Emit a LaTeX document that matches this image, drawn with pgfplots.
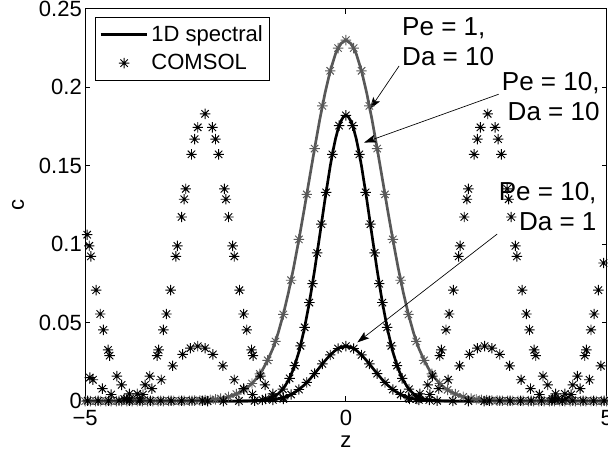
\documentclass[border=0pt]{standalone}
\usepackage{fontspec}
\setmainfont{Liberation Sans}
\usepackage{pgfplots}
\pgfplotsset{compat=1.18}
\usetikzlibrary{arrows.meta}
\definecolor{mgray}{RGB}{88,88,88}
\pgfdeclareplotmark{mstar}{%
 \pgfpathmoveto{\pgfqpoint{-\pgfplotmarksize}{0pt}}\pgfpathlineto{\pgfqpoint{\pgfplotmarksize}{0pt}}%
 \pgfpathmoveto{\pgfqpoint{0pt}{-\pgfplotmarksize}}\pgfpathlineto{\pgfqpoint{0pt}{\pgfplotmarksize}}%
 \pgfpathmoveto{\pgfqpoint{-0.7071\pgfplotmarksize}{-0.7071\pgfplotmarksize}}\pgfpathlineto{\pgfqpoint{0.7071\pgfplotmarksize}{0.7071\pgfplotmarksize}}%
 \pgfpathmoveto{\pgfqpoint{-0.7071\pgfplotmarksize}{0.7071\pgfplotmarksize}}\pgfpathlineto{\pgfqpoint{0.7071\pgfplotmarksize}{-0.7071\pgfplotmarksize}}%
 \pgfusepathqstroke}
\pgfplotsset{
 mylineleg/.style={legend image code/.code={\draw[##1] (0pt,0pt) -- (35pt,0pt);}},
 mymarkleg/.style={legend image code/.code={\draw[##1] plot coordinates {(17.5pt,0pt)};}},
 bstar/.style={only marks, mark=mstar, mark size=3.9pt, mark options={line width=0.7pt, draw=black}},
 gstar/.style={only marks, mark=mstar, mark size=3.9pt, mark options={line width=0.7pt, draw=mgray}},
}
\newcommand{\tickfont}{\fontsize{16.5}{19}\selectfont}
\newcommand{\annfont}{\fontsize{19.5}{22.5}\selectfont}
\begin{document}
\begin{tikzpicture}
\begin{axis}[
 name=ax,
 scale only axis, width=390.75pt, height=294pt,
 xmin=-5, xmax=5, ymin=0, ymax=0.25,
 xtick={-5,0,5}, xticklabels={−5,0,5},
 ytick={0,0.05,0.1,0.15,0.2,0.25}, yticklabels={0,0.05,0.1,0.15,0.2,0.25},
 tick align=inside, major tick length=3.75pt,
 tick style={black, line width=0.6pt},
 axis line style={black, line width=0.6pt},
 ticklabel style={font=\tickfont},
 xticklabel style={inner ysep=0pt, yshift=-6.75pt},
 yticklabel style={inner xsep=0pt, xshift=-2.25pt},
 xlabel={z}, ylabel={c},
 every axis x label/.style={at={([yshift=-30.75pt]axis description cs:0.5,0)}, anchor=center, font=\tickfont},
 every axis y label/.style={at={([xshift=-50.25pt]axis description cs:0,0.5)}, anchor=center, rotate=90, font=\tickfont},
 clip=false,
 legend style={at={(rel axis cs:0.019,0.98)}, anchor=north west, draw=black, line width=0.6pt,
   font=\tickfont, inner xsep=3pt, inner ysep=2pt, row sep=0pt,
   nodes={inner xsep=2pt, inner ysep=4.2pt}},
 legend cell align=left,
]
\addlegendimage{mylineleg, black, line width=2pt}
\addlegendentry{1D spectral}
\addlegendimage{mymarkleg, only marks, mark=mstar, mark size=3.9pt, mark options={line width=0.7pt, draw=black}}
\addlegendentry{COMSOL}

% 1D spectral: Pe = 1, Da = 10 (gray)
\addplot[forget plot, mgray, line width=2pt] coordinates {
(-5,0) (-4,0) (-3.4,0.0001) (-3.0,0.0002) (-2.8,0.0004) (-2.6,0.0008) (-2.4,0.0016) (-2.2,0.0032) (-2.0,0.0061) (-1.9,0.0083) (-1.8,0.0112) (-1.7,0.0150) (-1.6,0.0198) (-1.5,0.0260) (-1.4,0.0335) (-1.3,0.0432) (-1.2,0.0552) (-1.1,0.0693) (-1.0,0.0853) (-0.9,0.1030) (-0.8,0.1219) (-0.7,0.1415) (-0.6,0.1609) (-0.5,0.1795) (-0.4,0.1962) (-0.3,0.2104) (-0.2,0.2211) (-0.1,0.2277) (0,0.2300) (0.1,0.2277) (0.2,0.2211) (0.3,0.2104) (0.4,0.1962) (0.5,0.1795) (0.6,0.1609) (0.7,0.1415) (0.8,0.1219) (0.9,0.1030) (1.0,0.0853) (1.1,0.0693) (1.2,0.0552) (1.3,0.0432) (1.4,0.0335) (1.5,0.0260) (1.6,0.0198) (1.7,0.0150) (1.8,0.0112) (1.9,0.0083) (2.0,0.0061) (2.2,0.0032) (2.4,0.0016) (2.6,0.0008) (2.8,0.0004) (3.0,0.0002) (3.4,0.0001) (4,0) (5,0)
};
% 1D spectral: Pe = 10, Da = 10
\addplot[forget plot, black, line width=2pt] coordinates {
(-2.7,0) (-2.0,0) (-1.8,0.0002) (-1.6,0.0007) (-1.5,0.0014) (-1.4,0.0026) (-1.3,0.0046) (-1.2,0.0080) (-1.1,0.0132) (-1.0,0.0208) (-0.9,0.0314) (-0.8,0.0454) (-0.7,0.0628) (-0.6,0.0833) (-0.5,0.1058) (-0.4,0.1286) (-0.3,0.1497) (-0.25,0.1589) (-0.2,0.1669) (-0.15,0.1733) (-0.1,0.1781) (-0.05,0.1810) (0,0.1820) (0.05,0.1810) (0.1,0.1781) (0.15,0.1733) (0.2,0.1669) (0.25,0.1589) (0.3,0.1497) (0.4,0.1286) (0.5,0.1058) (0.6,0.0833) (0.7,0.0628) (0.8,0.0454) (0.9,0.0314) (1.0,0.0208) (1.1,0.0132) (1.2,0.0080) (1.3,0.0046) (1.4,0.0026) (1.5,0.0014) (1.6,0.0007) (1.8,0.0002) (2.0,0) (2.7,0)
};
% 1D spectral: Pe = 10, Da = 1
\addplot[forget plot, black, line width=2pt] coordinates {
(-2.7,0) (-2.0,0) (-1.8,0.0001) (-1.6,0.0003) (-1.4,0.0008) (-1.3,0.0014) (-1.2,0.0022) (-1.1,0.0034) (-1.0,0.0051) (-0.9,0.0074) (-0.8,0.0102) (-0.7,0.0136) (-0.6,0.0175) (-0.5,0.0216) (-0.4,0.0257) (-0.3,0.0294) (-0.2,0.0324) (-0.1,0.0343) (0,0.0350) (0.1,0.0343) (0.2,0.0324) (0.3,0.0294) (0.4,0.0257) (0.5,0.0216) (0.6,0.0175) (0.7,0.0136) (0.8,0.0102) (0.9,0.0074) (1.0,0.0051) (1.1,0.0034) (1.2,0.0022) (1.3,0.0014) (1.4,0.0008) (1.6,0.0003) (1.8,0.0001) (2.0,0) (2.7,0)
};

% COMSOL, Pe = 1, Da = 10 (gray stars)
\addplot[forget plot, gstar] coordinates {
(-2.4,0.0016) (-2.25,0.0027) (-2.1,0.0045) (-1.95,0.0072) (-1.8,0.0112) (-1.65,0.0173) (-1.5,0.0260) (-1.35,0.0380) (-1.2,0.0552) (-1.05,0.0770) (-0.9,0.1030) (-0.75,0.1317) (-0.6,0.1609) (-0.45,0.1881) (-0.3,0.2104) (-0.15,0.2249) (0,0.2300)
(0.15,0.2249) (0.3,0.2104) (0.45,0.1881) (0.6,0.1609) (0.75,0.1317) (0.9,0.1030) (1.05,0.0770) (1.2,0.0552) (1.35,0.0380) (1.5,0.0260) (1.65,0.0173) (1.8,0.0112) (1.95,0.0072) (2.1,0.0045) (2.25,0.0027) (2.4,0.0016)
(2.5,0.0011) (2.6,0.0008) (2.7,0.0006) (2.8,0.0004) (2.9,0.0003) (3.0,0.0002) (3.1,0.0001) (3.2,0.0001) (3.3,0.0001) (3.4,0.0001) (3.5,0) (3.6,0) (3.7,0) (3.8,0) (3.9,0) (4.0,0) (4.1,0) (4.2,0) (4.3,0) (4.4,0) (4.5,0) (4.6,0) (4.7,0) (4.8,0) (4.9,0) (5.0,0)
(-2.5,0.0011) (-2.6,0.0008) (-2.7,0.0006) (-2.8,0.0004) (-2.9,0.0003) (-3.0,0.0002) (-3.1,0.0001) (-3.2,0.0001) (-3.3,0.0001) (-3.4,0.0001) (-3.5,0) (-3.6,0) (-3.7,0) (-3.8,0) (-3.9,0) (-4.0,0) (-4.1,0) (-4.2,0) (-4.3,0) (-4.4,0) (-4.5,0) (-4.6,0) (-4.7,0) (-4.8,0) (-4.9,0) (-5.0,0)
};
% COMSOL, Pe = 10, Da = 10 (black stars)
\addplot[forget plot, bstar] coordinates {
(0,0.182) (-0.13,0.1755) (0.13,0.1755) (-0.26,0.1572) (0.26,0.1572) (-0.38,0.1330) (0.38,0.1330) (-0.47,0.1127) (0.47,0.1127) (-0.55,0.0944) (0.55,0.0944) (-0.64,0.0748) (0.64,0.0748) (-0.70,0.0628) (0.70,0.0628) (-0.79,0.0470) (0.79,0.0470) (-0.87,0.0352) (0.87,0.0352) (-0.98,0.0226) (0.98,0.0226) (-1.08,0.0145) (1.08,0.0145) (-1.21,0.0076) (1.21,0.0076) (-1.40,0.0026) (1.40,0.0026) (-1.6,0.0007) (1.6,0.0007)
(-2.70,0.183) (-2.84,0.1744) (-2.56,0.1744) (-2.90,0.1669) (-2.50,0.1669) (-2.96,0.1572) (-2.44,0.1572) (-3.07,0.1352) (-2.33,0.1352) (-3.10,0.1286) (-2.30,0.1286) (-3.15,0.1173) (-2.25,0.1173) (-3.23,0.0989) (-2.17,0.0989) (-3.26,0.0922) (-2.14,0.0922) (-3.36,0.0707) (-2.04,0.0707) (-3.44,0.0555) (-1.96,0.0555) (-3.50,0.0454) (-1.90,0.0454) (-3.59,0.0326) (-1.81,0.0326) (-3.62,0.0290) (-1.78,0.0290) (-3.76,0.0159) (-1.64,0.0159) (-3.85,0.0103) (-1.55,0.0103) (-4.00,0.0046) (-1.40,0.0046) (-4.20,0.0014) (-1.20,0.0014)
(2.72,0.183) (2.58,0.1744) (2.86,0.1744) (2.52,0.1669) (2.92,0.1669) (2.46,0.1572) (2.98,0.1572) (2.35,0.1352) (3.09,0.1352) (2.32,0.1286) (3.12,0.1286) (2.27,0.1173) (3.17,0.1173) (2.19,0.0989) (3.25,0.0989) (2.16,0.0922) (3.28,0.0922) (2.06,0.0707) (3.38,0.0707) (1.98,0.0555) (3.46,0.0555) (1.92,0.0454) (3.52,0.0454) (1.83,0.0326) (3.61,0.0326) (1.80,0.0290) (3.64,0.0290) (1.66,0.0159) (3.78,0.0159) (1.57,0.0103) (3.87,0.0103) (1.42,0.0046) (4.02,0.0046) (1.22,0.0014) (4.22,0.0014)
(-4.96,0.1060) (-4.92,0.0989) (-4.89,0.0922) (-4.79,0.0707) (-4.71,0.0555) (-4.65,0.0454) (-4.56,0.0326) (-4.53,0.0290) (-4.39,0.0159) (-4.30,0.0103) (-4.15,0.0046) (-3.95,0.0014)
(4.94,0.0880) (4.84,0.0707) (4.76,0.0555) (4.70,0.0454) (4.61,0.0326) (4.58,0.0290) (4.44,0.0159) (4.35,0.0103) (4.20,0.0046) (4.00,0.0014)
(-1.75,0.0002) (1.75,0.0002) (-2.05,0.0001) (2.05,0.0001) (-2.35,0) (2.35,0) (-2.65,0) (2.65,0)
(2.75,0.0002) (2.95,0.0002) (3.15,0.0002) (3.35,0.0002) (3.55,0.0002) (3.75,0.0002) (3.95,0.0002) (4.15,0.0002) (4.35,0.0002) (4.55,0.0002) (4.75,0.0002) (4.95,0.0002)
(-2.75,0.0002) (-2.95,0.0002) (-3.15,0.0002) (-3.35,0.0002) (-3.55,0.0002) (-3.75,0.0002) (-3.95,0.0002) (-4.15,0.0002) (-4.35,0.0002) (-4.55,0.0002) (-4.75,0.0002) (-4.95,0.0002)
};
% COMSOL, Pe = 10, Da = 1 (black stars)
\addplot[forget plot, bstar] coordinates {
(0,0.035) (-0.15,0.0335) (0.15,0.0335) (-0.3,0.0294) (0.3,0.0294) (-0.45,0.0237) (0.45,0.0237) (-0.6,0.0175) (0.6,0.0175) (-0.75,0.0119) (0.75,0.0119) (-0.9,0.0074) (0.9,0.0074) (-1.05,0.0042) (1.05,0.0042) (-1.2,0.0022) (1.2,0.0022) (-1.4,0.0008) (1.4,0.0008)
(-2.84,0.035) (-2.98,0.0337) (-2.70,0.0337) (-3.13,0.0298) (-2.55,0.0298) (-3.32,0.0225) (-2.36,0.0225) (-3.54,0.0136) (-2.14,0.0136) (-3.72,0.0079) (-1.96,0.0079) (-3.89,0.0042) (-1.79,0.0042) (-4.14,0.0014) (-1.54,0.0014)
(2.66,0.035) (2.52,0.0337) (2.80,0.0337) (2.37,0.0298) (2.95,0.0298) (2.18,0.0225) (3.14,0.0225) (1.96,0.0136) (3.36,0.0136) (1.78,0.0079) (3.54,0.0079) (1.61,0.0042) (3.71,0.0042) (1.36,0.0014) (3.96,0.0014)
(-4.91,0.0150) (-4.85,0.0136) (-4.67,0.0079) (-4.50,0.0042) (-4.25,0.0014)
(4.89,0.0225) (4.67,0.0136) (4.49,0.0079) (4.32,0.0042) (4.07,0.0014)
};

% annotations
\node[font=\annfont, align=left, anchor=north west, inner sep=0pt] at (axis cs:1.075,0.2448) {Pe = 1,\\Da = 10};
\node[font=\annfont, align=right, anchor=north east, inner sep=0pt] at (axis cs:4.87,0.2098) {Pe = 10,\\Da = 10};
\node[font=\annfont, align=right, anchor=north east, inner sep=0pt] at (axis cs:4.81,0.1396) {Pe = 10,\\Da = 1};
\draw[line width=0.5pt, -{Stealth[length=9pt,width=6pt,inset=2pt]}] (axis cs:1.02,0.2135) -- (axis cs:0.46,0.186);
\draw[line width=0.5pt, -{Stealth[length=9pt,width=6pt,inset=2pt]}] (axis cs:2.93,0.1955) -- (axis cs:0.35,0.1647);
\draw[line width=0.5pt, -{Stealth[length=9pt,width=6pt,inset=2pt]}] (axis cs:2.90,0.1064) -- (axis cs:0.22,0.0374);
\end{axis}
\pgfresetboundingbox
\path[use as bounding box] ([xshift=-63.75pt,yshift=-45pt]ax.south west) rectangle ([xshift=1.0pt,yshift=6.5pt]ax.north east);
\end{tikzpicture}
\end{document}
